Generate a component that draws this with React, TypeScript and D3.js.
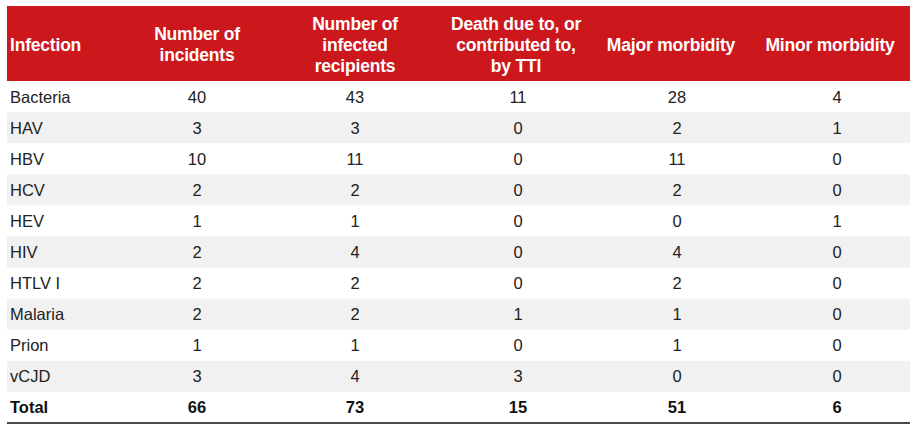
import React from "react";
import * as d3 from "d3";

const infections = ["Bacteria", "HAV", "HBV", "HCV", "HEV", "HIV", "HTLV I", "Malaria", "Prion", "vCJD"];
const incidents = [40, 3, 10, 2, 1, 2, 2, 2, 1, 3];
const infectedRecipients = [43, 3, 11, 2, 1, 4, 2, 2, 1, 4];
const deaths = [11, 0, 0, 0, 0, 0, 0, 1, 0, 3];
const majorMorbidity = [28, 2, 11, 2, 0, 4, 2, 1, 1, 0];
const minorMorbidity = [4, 1, 0, 0, 1, 0, 0, 0, 0, 0];
const totals = [66, 73, 15, 51, 6];
const headers: string[][] = [
  ["Infection"],
  ["Number of", "incidents"],
  ["Number of", "infected", "recipients"],
  ["Death due to, or", "contributed to,", "by TTI"],
  ["Major morbidity"],
  ["Minor morbidity"],
];

const W = 922;
const H = 435;
const left = 7;
const right = 910;
const headTop = 6;
const headBottom = 81;
const tableBottom = 423;
const RED = "#cc171d";
const STRIPE = "#f1f1f1";
const FONT = "'Liberation Sans', Arial, Helvetica, sans-serif";

export default function App() {
  const rowKeys = [...infections, "Total"];
  const y = d3.scaleBand<string>().domain(rowKeys).range([headBottom, tableBottom]).padding(0);
  const x = d3.scaleOrdinal<number, number>().domain([0, 1, 2, 3, 4, 5]).range([0, 197, 355, 518, 677, 837]);
  const xHead = d3.scaleOrdinal<number, number>().domain([0, 1, 2, 3, 4, 5]).range([0, 197, 355, 516, 671, 830]);
  const seriesCols = [incidents, infectedRecipients, deaths, majorMorbidity, minorMorbidity];
  const headMid = 44.5;
  const lh = 21;

  return (
    <svg width={W} height={H} style={{ position: "absolute", left: 0, top: 0, background: "#fff" }}>
      <rect x={left} y={headTop} width={right - left} height={headBottom - headTop} fill={RED} />
      {headers.map((lines, ci) => {
        const n = lines.length;
        return (
          <text
            key={ci}
            fontFamily={FONT}
            fontWeight="bold"
            fontSize={17.5}
            fill="#fff"
            textAnchor={ci === 0 ? "start" : "middle"}
            letterSpacing={-0.2}
          >
            {lines.map((l, li) => (
              <tspan
                key={li}
                x={ci === 0 ? 10 : xHead(ci)}
                y={headMid + (li - (n - 1) / 2) * lh}
                dominantBaseline="central"
              >
                {l}
              </tspan>
            ))}
          </text>
        );
      })}
      {infections.map((name, ri) => {
        const yy = y(name)!;
        const mid = yy + y.bandwidth() / 2;
        return (
          <g key={name}>
            {ri % 2 === 1 && <rect x={left} y={yy} width={right - left} height={y.bandwidth()} fill={STRIPE} />}
            <text x={10} y={mid} dominantBaseline="central" fontFamily={FONT} fontSize={16.5} fill="#222">
              {name}
            </text>
            {seriesCols.map((arr, ci) => (
              <text
                key={ci}
                x={x(ci + 1)}
                y={mid}
                dominantBaseline="central"
                textAnchor="middle"
                fontFamily={FONT}
                fontSize={16.5}
                fill="#222"
              >
                {arr[ri]}
              </text>
            ))}
          </g>
        );
      })}
      {(() => {
        const yy = y("Total")!;
        const mid = yy + y.bandwidth() / 2;
        return (
          <g>
            <text x={10} y={mid} dominantBaseline="central" fontFamily={FONT} fontWeight="bold" fontSize={16.5} fill="#111">
              Total
            </text>
            {totals.map((v, ci) => (
              <text
                key={ci}
                x={x(ci + 1)}
                y={mid}
                dominantBaseline="central"
                textAnchor="middle"
                fontFamily={FONT}
                fontWeight="bold"
                fontSize={16.5}
                fill="#111"
              >
                {v}
              </text>
            ))}
          </g>
        );
      })()}
      <line x1={left} x2={right} y1={tableBottom} y2={tableBottom} stroke="#111" strokeWidth={1.5} />
    </svg>
  );
}
